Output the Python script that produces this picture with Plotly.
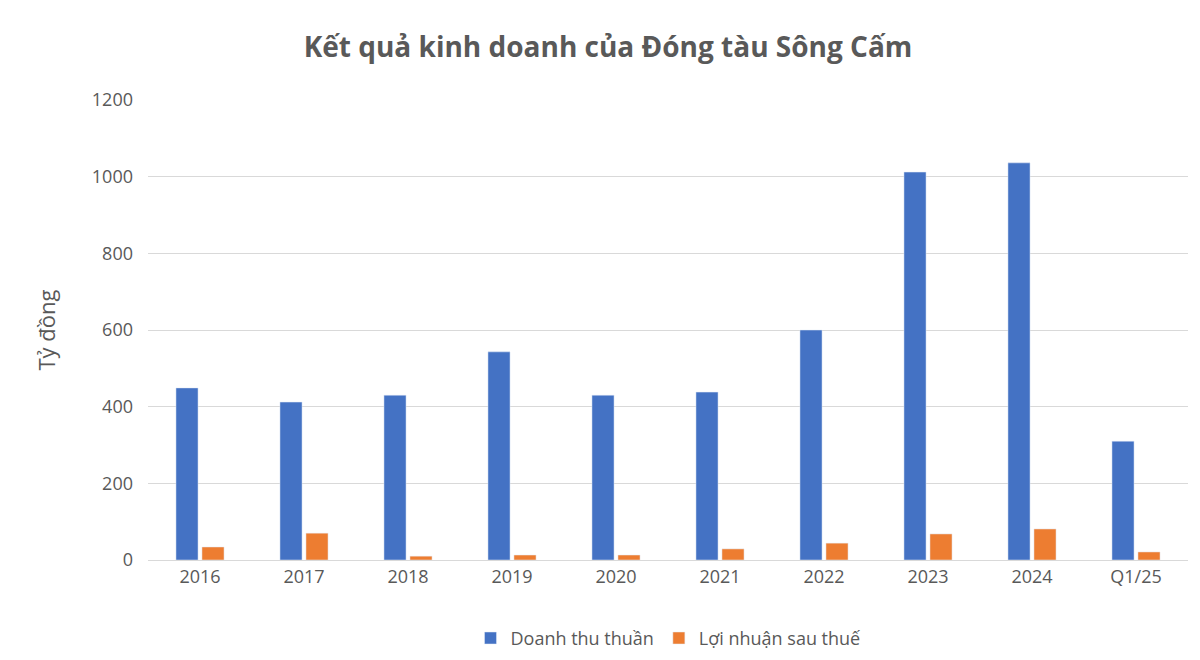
import plotly.graph_objects as go

categories = ["2016","2017","2018","2019","2020","2021","2022","2023","2024","Q1/25"]
revenue = [449, 412, 430, 543, 430, 438, 600, 1012, 1036, 310]
profit = [34, 70, 10, 13, 13, 29, 44, 68, 81, 21]

fig = go.Figure()
fig.add_bar(x=categories, y=revenue, name="Doanh thu thuần", marker_color="#4472C4")
fig.add_bar(x=categories, y=profit, name="Lợi nhuận sau thuế", marker_color="#ED7D31")

fig.update_layout(
    width=1200, height=660,
    paper_bgcolor="white", plot_bgcolor="white",
    font=dict(family="Open Sans, Calibri, sans-serif", color="#595959", size=18),
    title=dict(text="<b>Kết quả kinh doanh của Đóng tàu Sông Cấm</b>", x=0.5, xanchor="center",
               y=0.94, yanchor="middle", font=dict(size=28, color="#595959")),
    barmode="group", bargap=0.5, bargroupgap=0.15,
    margin=dict(l=140, r=20, t=92, b=108, autoexpand=False),
    legend=dict(orientation="h", x=0.5, xanchor="center", y=-0.13, yanchor="top",
                font=dict(size=18, color="#595959")),
    yaxis=dict(range=[0, 1200], dtick=200, gridcolor="#D9D9D9", zeroline=False,
               showline=False, ticks="", ticklabelstandoff=14,
               title=dict(text="Tỷ đồng", font=dict(size=22), standoff=30)),
    xaxis=dict(showline=True, linecolor="#D9D9D9", ticks=""),
)
fig.write_html("out.html")
